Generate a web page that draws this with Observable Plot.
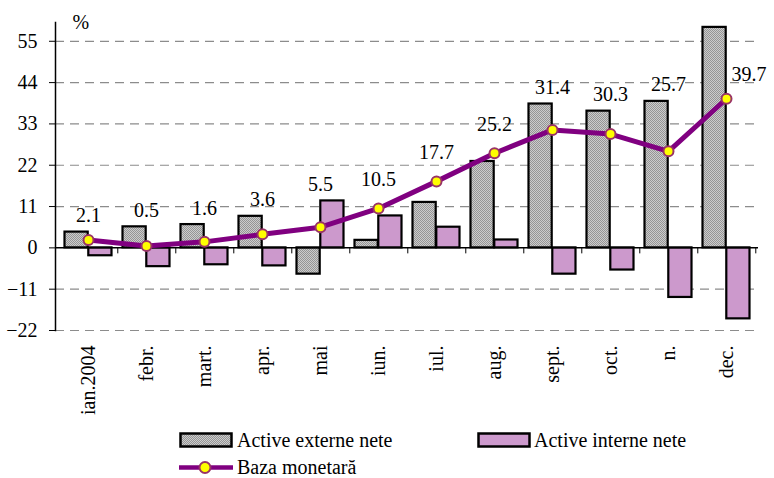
<!DOCTYPE html>
<html>
<head>
<meta charset="utf-8">
<script src="https://cdn.jsdelivr.net/npm/d3@7"></script>
<script src="https://cdn.jsdelivr.net/npm/@observablehq/plot@0.6"></script>
<style>
  html, body { margin: 0; padding: 0; background: #fff; }
  #chart { position: relative; width: 774px; height: 478px; font-family: 'Liberation Serif', 'Times New Roman', 'DejaVu Serif', serif; }
  .leg { position: absolute; font-size: 20px; line-height: 20px; color: #000; white-space: nowrap; }
  .leg svg { position: absolute; }
</style>
</head>
<body>
<div id="chart"></div>
<script>
// ---- data ----
const months = ["ian.2004", "febr.", "mart.", "apr.", "mai", "iun.", "iul.", "aug.", "sept.", "oct.", "n.", "dec."];
const activeExterne = [4.2, 5.6, 6.2, 8.4, -7.0, 2.0, 12.1, 23.0, 38.3, 36.4, 39.0, 58.7];
const activeInterne = [-2.1, -5.0, -4.5, -4.8, 12.5, 8.5, 5.5, 2.1, -7.0, -5.9, -13.2, -18.9];
const bazaMonetara = [2.1, 0.5, 1.6, 3.6, 5.5, 10.5, 17.7, 25.2, 31.4, 30.3, 25.7, 39.7];
const yTicks = [-22, -11, 0, 11, 22, 33, 44, 55];
const seriesNames = ["Active externe nete", "Active interne nete", "Baza monetară"];

const rows = months.map((m, i) => ({
  month: m, ext: activeExterne[i], int: activeInterne[i], baza: bazaMonetara[i], last: i === months.length - 1
}));

// ---- layout ----
const W = 774, H = 418, mL = 55, mR = 16, mT = 22, mB = 88;
const yDomain = [-22, 60];
const bw = (W - mL - mR) / months.length;
const outer = 5.5;
const pxPerUnit = (H - mT - mB) / (yDomain[1] - yDomain[0]);
const tickUnits = 6 / pxPerUnit;

const font = "'Liberation Serif', 'Times New Roman', 'DejaVu Serif', serif";

const labelRows = rows.filter(d => !d.last).map(d => {
  const top = Math.max(d.ext, d.int, d.baza);
  return {...d, ly: top, lineMax: top === d.baza};
});
const lastRow = rows.filter(d => d.last);

const svg = Plot.plot({
  width: W, height: H,
  marginLeft: mL, marginRight: mR, marginTop: mT, marginBottom: mB,
  style: {fontFamily: font, fontSize: "20px", color: "#000", background: "#fff"},
  x: {type: "band", domain: months, padding: 0, label: null},
  y: {domain: yDomain, label: null},
  marks: [
    Plot.gridY(yTicks.filter(t => t !== 0), {stroke: "#8c8c8c", strokeOpacity: 1, strokeDasharray: "9,6", strokeWidth: 1.2}),
    Plot.barY(rows, {x: "month", y: "ext", fill: "url(#dots)", stroke: "#000", strokeWidth: 2.2,
      insetLeft: outer, insetRight: bw / 2}),
    Plot.barY(rows, {x: "month", y: "int", fill: "#cc99cc", stroke: "#000", strokeWidth: 2.2,
      insetLeft: bw / 2, insetRight: outer}),
    Plot.ruleY([0], {stroke: "#000", strokeWidth: 1.5}),
    Plot.ruleX(months, {x: d => d, y1: 0, y2: -tickUnits, dx: bw / 2, stroke: "#000", strokeWidth: 1}),
    Plot.frame({anchor: "left", stroke: "#000", strokeWidth: 1.5}),
    Plot.axisY(yTicks, {tickSize: 6, tickPadding: 12, fontSize: 20, fontFamily: font, stroke: "#000"}),
    Plot.axisX({tickRotate: -90, tickSize: 0, tickPadding: 15, fontSize: 20, fontFamily: font, label: null}),
    Plot.line(rows, {x: "month", y: "baza", stroke: "#800080", strokeWidth: 5}),
    Plot.dot(rows, {x: "month", y: "baza", r: 5, fill: "#ffff00", stroke: "#993366", strokeWidth: 2}),
    Plot.text(labelRows, {x: "month", y: "ly", text: d => d.baza.toFixed(1), lineAnchor: "bottom",
      fontSize: 20, fontFamily: font, fill: "#000"}),
    Plot.text(lastRow, {x: "month", y: "baza", text: d => d.baza.toFixed(1), textAnchor: "start",
      dx: 5, dy: -24, fontSize: 20, fontFamily: font, fill: "#000"}),
    Plot.text(["%"], {frameAnchor: "top-left", text: d => d, textAnchor: "start", dx: 17, dy: 6, lineAnchor: "bottom", fontSize: 20, fontFamily: font, fill: "#000"})
  ]
});

// pattern for stippled grey bars
const ns = "http://www.w3.org/2000/svg";
const defs = document.createElementNS(ns, "defs");
defs.innerHTML = `<pattern id="dots" width="2" height="2" patternUnits="userSpaceOnUse">
  <rect width="2" height="2" fill="#cccccc"/><rect width="1" height="1" fill="#959595"/><rect x="1" y="1" width="1" height="1" fill="#959595"/></pattern>`;
svg.insertBefore(defs, svg.firstChild);

const chart = document.getElementById("chart");
chart.appendChild(svg);

// shift data labels upward according to what is highest at that month
const textGroups = svg.querySelectorAll("g[aria-label='text']");
if (textGroups.length) {
  const texts = textGroups[0].querySelectorAll("text");
  texts.forEach((t, i) => {
    const d = labelRows[i];
    const off = d.lineMax ? -22 : -10;
    t.setAttribute("dy", String(off));
  });
}

// ---- legend ----
function swatch(fill) {
  return `<svg width="54" height="16" style="left:0px;top:0px">
    <defs><pattern id="dotsL" width="2" height="2" patternUnits="userSpaceOnUse">
    <rect width="2" height="2" fill="#cccccc"/><rect width="1" height="1" fill="#959595"/><rect x="1" y="1" width="1" height="1" fill="#959595"/></pattern></defs>
    <rect x="1.5" y="1.5" width="51" height="13" fill="${fill}" stroke="#000" stroke-width="2.5"/></svg>`;
}
const l1 = document.createElement("div");
l1.className = "leg"; l1.style.left = "179px"; l1.style.top = "432px";
l1.innerHTML = swatch("url(#dotsL)") + `<span style="position:absolute;left:58px;top:-2px">${seriesNames[0]}</span>`;
chart.appendChild(l1);

const l2 = document.createElement("div");
l2.className = "leg"; l2.style.left = "477px"; l2.style.top = "432px";
l2.innerHTML = swatch("#cc99cc") + `<span style="position:absolute;left:57px;top:-2px">${seriesNames[1]}</span>`;
chart.appendChild(l2);

const l3 = document.createElement("div");
l3.className = "leg"; l3.style.left = "178px"; l3.style.top = "458px";
l3.innerHTML = `<svg width="56" height="18" style="left:0;top:0">
  <line x1="1" y1="9.5" x2="55" y2="9.5" stroke="#800080" stroke-width="4.5"/>
  <circle cx="27" cy="9.5" r="5.5" fill="#ffff00" stroke="#993366" stroke-width="2"/></svg>
  <span style="position:absolute;left:59px;top:-1px">${seriesNames[2]}</span>`;
chart.appendChild(l3);
</script>
</body>
</html>
